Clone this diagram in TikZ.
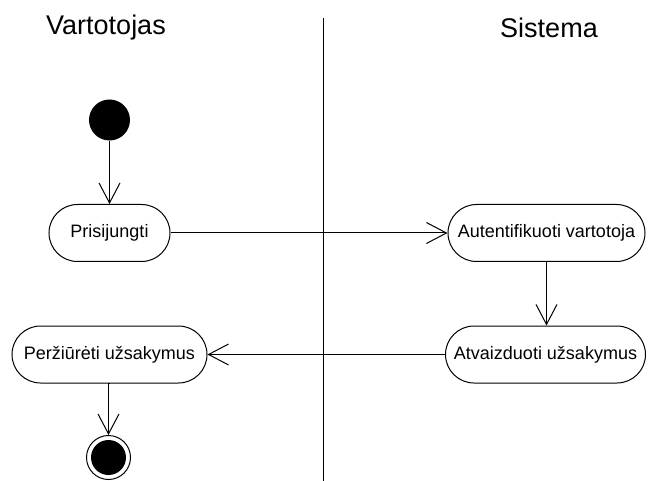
\documentclass[tikz,border=0pt]{standalone}
\usepackage{fontspec}
\setmainfont{Liberation Sans}
\usetikzlibrary{arrows.meta}
\begin{document}
\begin{tikzpicture}[x=1pt,y=-1pt,
  action/.style={draw, line width=1pt, rounded corners=28.5pt, minimum height=57pt,
    inner sep=0pt, font=\fontsize{18}{20}\selectfont},
  flow/.style={line width=1pt, -{Straight Barb[length=20pt,width=21pt,line width=1pt]}},
  lane/.style={inner sep=0pt, font=\fontsize{27}{31}\selectfont}]
  \useasboundingbox (0,0) rectangle (648,481);

  % swimlane headers and separator
  \node[lane, anchor=west] (user) at (46,28) {Vartotojas};
  \node[lane] (sys) at (549,28) {Sistema};
  \draw[line width=1pt] (323,18) -- (323,481);

  % initial and final states
  \node[circle, fill=black, minimum size=41pt, inner sep=0pt] (start) at (109.5,120) {};
  \node[circle, draw, line width=1pt, minimum size=44pt, inner sep=0pt,
    path picture={\fill (path picture bounding box.center) circle (17.5pt);}] (end) at (108.5,457.5) {};

  % actions
  \node[action, minimum width=121pt] (login) at (109.5,233) {Prisijungti};
  \node[action, minimum width=197pt] (auth) at (546.5,233) {Autentifikuoti vartotoja};
  \node[action, minimum width=200pt] (show) at (545.5,354.5) {Atvaizduoti užsakymus};
  \node[action, minimum width=195pt] (view) at (109.5,354.5) {Peržiūrėti užsakymus};

  % control flow
  \draw[flow] (start) -- (login);
  \draw[flow] (login) -- (auth);
  \draw[flow] (auth.south) -- (auth.south |- show.north);
  \draw[flow] (show) -- (view);
  \draw[flow] (view.south) -- (view.south -| end.north) -- (end.north);
\end{tikzpicture}
\end{document}
